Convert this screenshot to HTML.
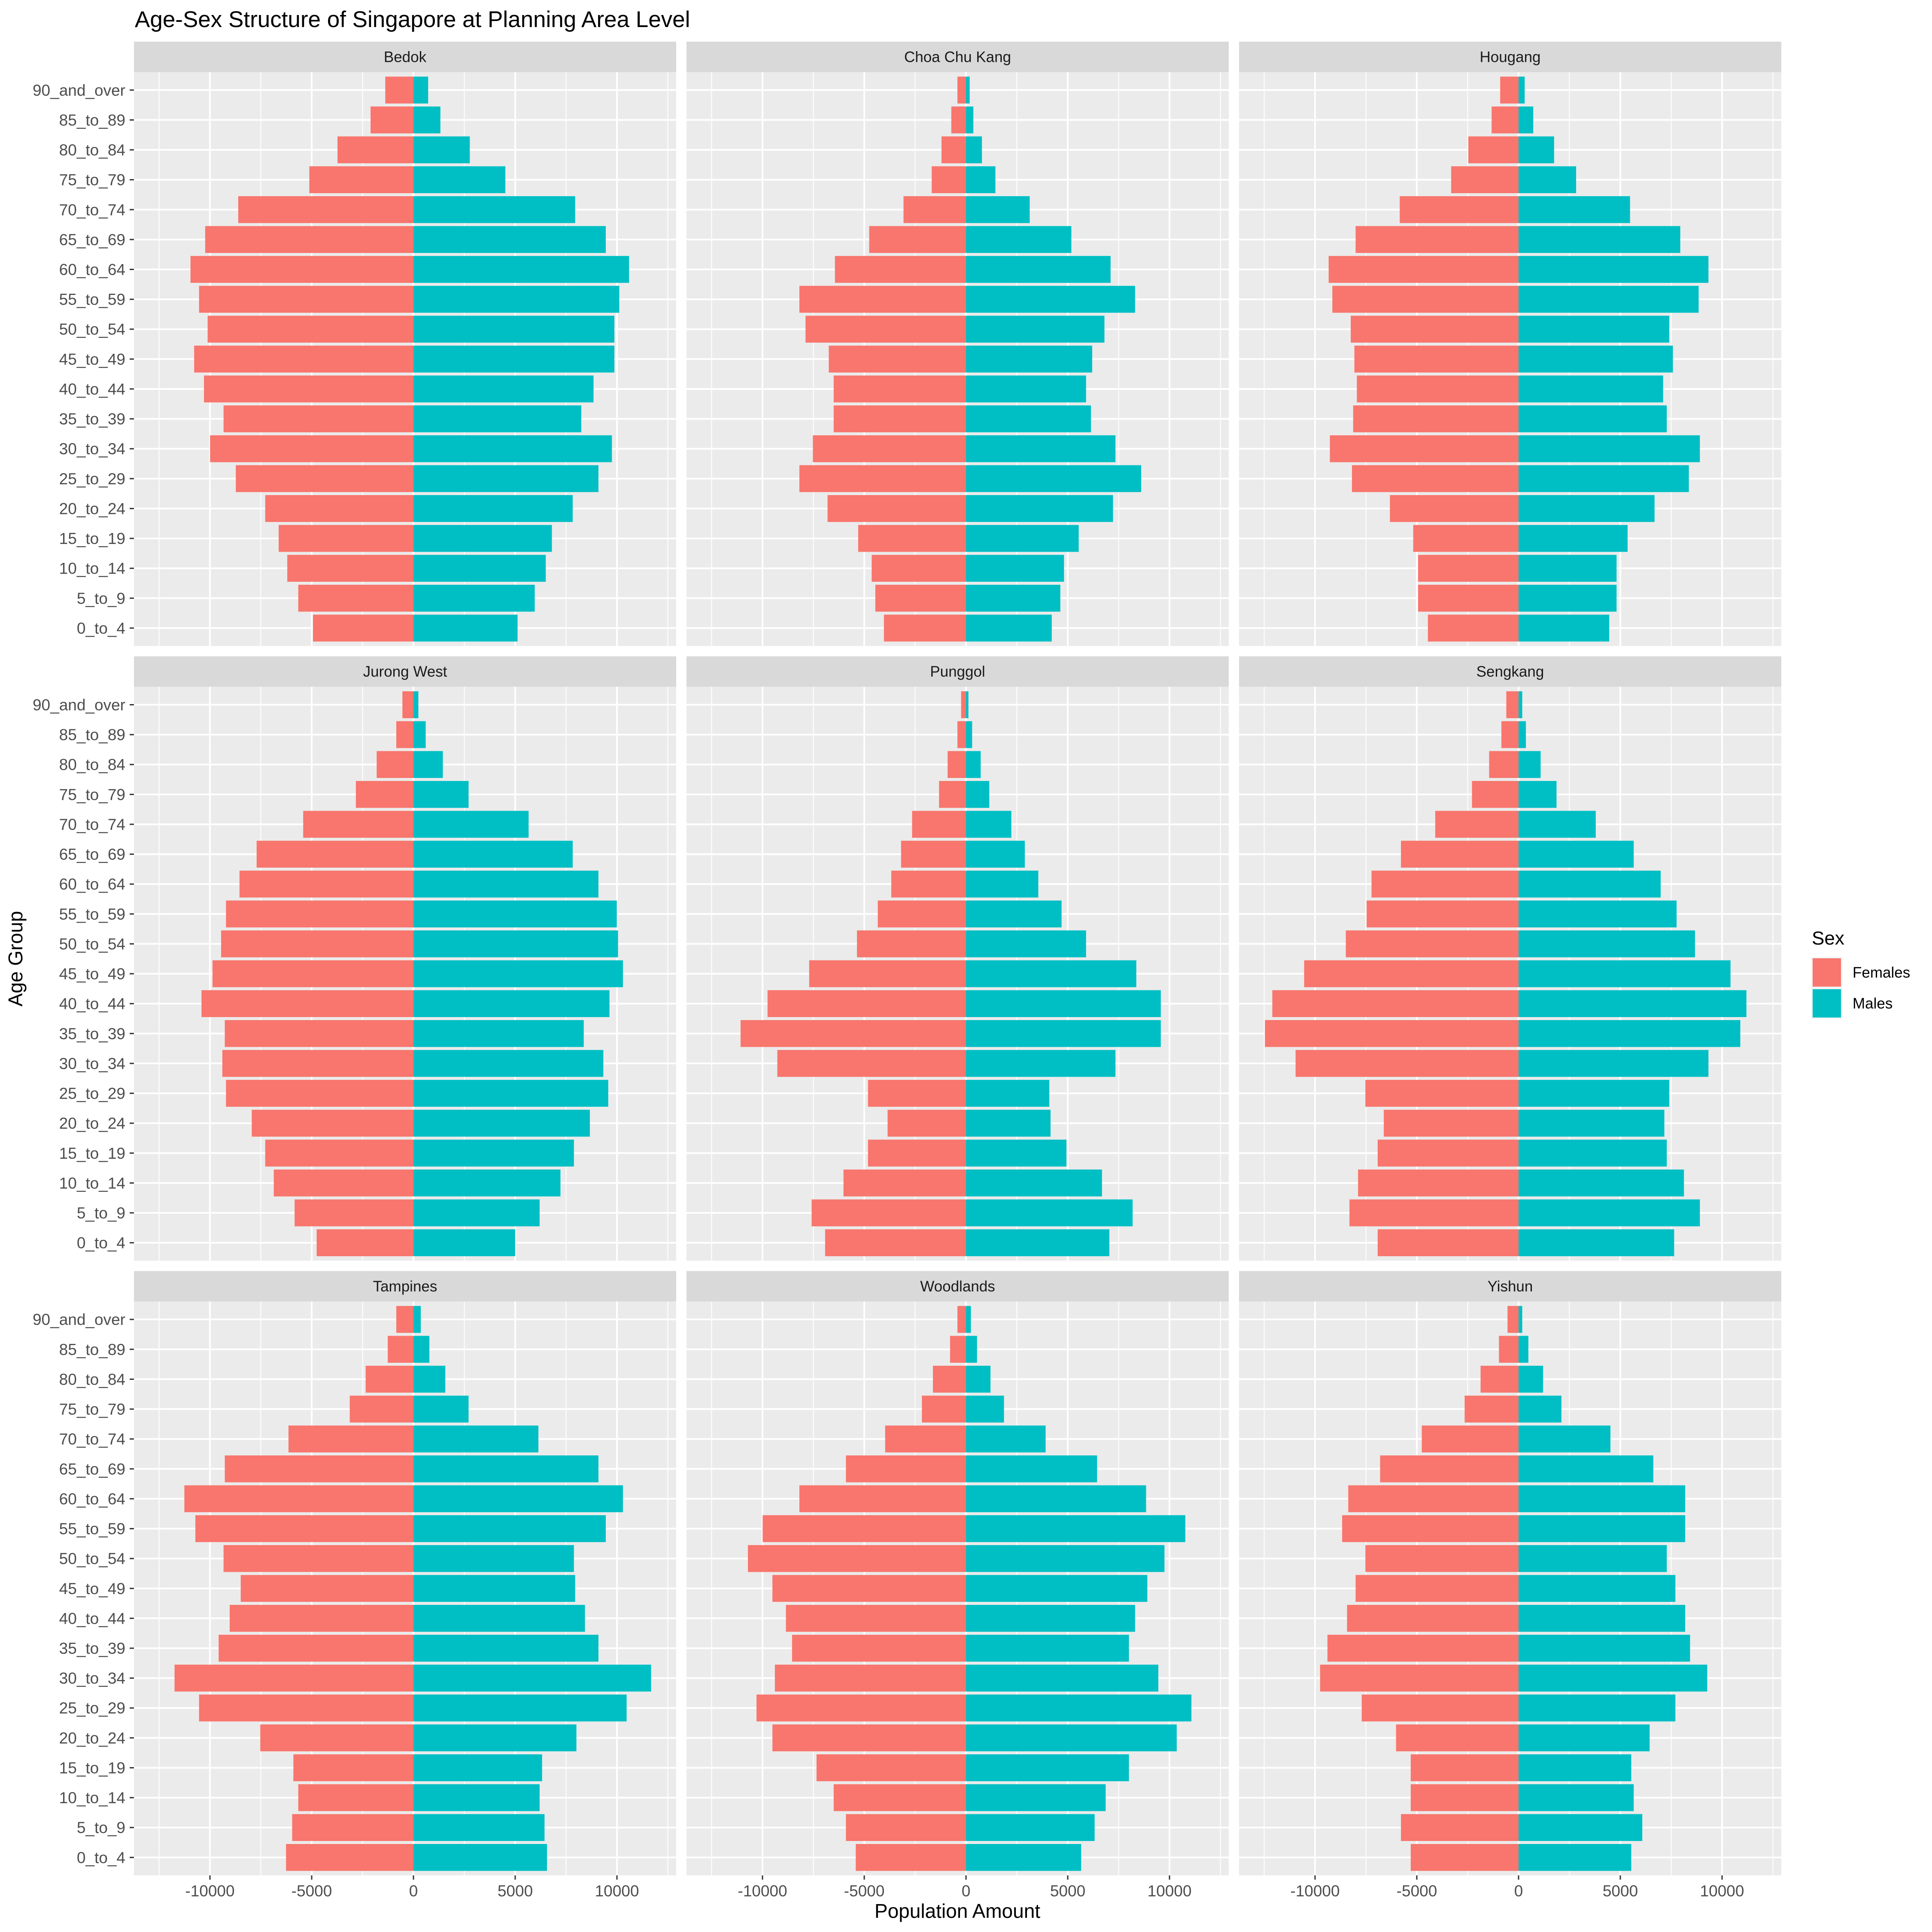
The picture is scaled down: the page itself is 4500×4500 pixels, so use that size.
<!DOCTYPE html>
<html><head><meta charset="utf-8"><style>
html,body{margin:0;padding:0;background:#fff;}
svg{display:block;font-family:"Liberation Sans",Arial,sans-serif;}
</style></head><body>
<svg id="chart" width="4500" height="4500" viewBox="0 0 4500 4500" xmlns="http://www.w3.org/2000/svg">
<rect width="4500" height="4500" fill="#fff"/>
<text x="314" y="63" font-size="53" fill="#000">Age-Sex Structure of Singapore at Planning Area Level</text>
<text x="2230" y="4467" font-size="46" text-anchor="middle" fill="#000">Population Amount</text>
<text x="0" y="0" font-size="46" text-anchor="middle" fill="#000" transform="translate(52,2233) rotate(-90)">Age Group</text>
<g>
<text x="4220" y="2200" font-size="44" fill="#000">Sex</text>
<rect x="4219" y="2229" width="72" height="144" fill="#f2f2f2"/>
<rect x="4222" y="2232" width="66" height="66" fill="#F8766D"/>
<rect x="4222" y="2304" width="66" height="66" fill="#00BFC4"/>
<text x="4315" y="2277" font-size="35" fill="#000">Females</text>
<text x="4315" y="2349" font-size="35" fill="#000">Males</text>
</g>
<g id="panels"></g>
</svg>
<script>
const ageGroups = ["90_and_over","85_to_89","80_to_84","75_to_79","70_to_74","65_to_69","60_to_64","55_to_59","50_to_54","45_to_49","40_to_44","35_to_39","30_to_34","25_to_29","20_to_24","15_to_19","10_to_14","5_to_9","0_to_4"];
const areas = ["Bedok","Choa Chu Kang","Hougang","Jurong West","Punggol","Sengkang","Tampines","Woodlands","Yishun"];
const xTicks = [-10000,-5000,0,5000,10000];
const xTickLabels = ["-10000","-5000","0","5000","10000"];
const xMinor = [-12500,-7500,-2500,2500,7500,12500];
const femalesBedok = [1385,2107,3732,5117,8609,10234,10956,10535,10114,10776,10294,9331,9993,8729,7284,6622,6200,5659,4936];
const malesBedok = [722,1324,2769,4515,7946,9451,10595,10114,9873,9873,8849,8247,9752,9090,7826,6803,6502,5960,5117];
const femalesChoaChuKang = [421,722,1204,1686,3070,4756,6441,8187,7886,6742,6502,6502,7525,8187,6803,5298,4635,4455,4033];
const malesChoaChuKang = [181,361,783,1445,3130,5177,7104,8308,6803,6200,5900,6140,7344,8609,7224,5538,4816,4635,4214];
const femalesHougang = [903,1324,2468,3311,5839,8007,9331,9150,8247,8067,7946,8127,9271,8187,6321,5177,4936,4936,4455];
const malesHougang = [301,722,1746,2829,5478,7946,9331,8849,7405,7585,7104,7284,8910,8368,6682,5358,4816,4816,4455];
const femalesJurongWest = [542,843,1806,2829,5418,7706,8548,9211,9451,9873,10415,9271,9391,9211,7946,7284,6863,5839,4756];
const malesJurongWest = [241,602,1445,2709,5659,7826,9090,9993,10053,10294,9632,8368,9331,9572,8669,7886,7224,6200,4997];
const femalesPunggol = [241,421,903,1324,2649,3191,3672,4334,5358,7706,9752,11077,9271,4816,3853,4816,6020,7585,6923];
const malesPunggol = [120,301,722,1144,2227,2890,3552,4696,5900,8368,9572,9572,7344,4094,4154,4936,6682,8187,7043];
const femalesSengkang = [602,843,1445,2288,4094,5779,7224,7465,8488,10535,12100,12461,10956,7525,6622,6923,7886,8308,6923];
const malesSengkang = [181,361,1084,1866,3793,5659,6983,7766,8669,10415,11197,10896,9331,7405,7164,7284,8127,8910,7645];
const femalesTampines = [843,1264,2348,3130,6140,9271,11257,10716,9331,8488,9030,9572,11739,10535,7525,5900,5659,5960,6261];
const malesTampines = [361,783,1565,2709,6140,9090,10294,9451,7886,7946,8428,9090,11679,10475,8007,6321,6200,6441,6562];
const femalesWoodlands = [421,783,1625,2167,3973,5900,8187,9993,10716,9512,8849,8548,9391,10294,9512,7344,6502,5900,5418];
const malesWoodlands = [241,542,1204,1866,3913,6441,8849,10776,9752,8910,8308,8007,9451,11077,10355,8007,6863,6321,5659];
const femalesYishun = [542,963,1866,2649,4756,6803,8368,8669,7525,8007,8428,9391,9752,7706,6020,5298,5298,5779,5298];
const malesYishun = [181,482,1204,2107,4515,6622,8187,8187,7284,7706,8187,8428,9271,7706,6441,5538,5659,6080,5538];

const femaleSeries = [femalesBedok,femalesChoaChuKang,femalesHougang,femalesJurongWest,femalesPunggol,femalesSengkang,femalesTampines,femalesWoodlands,femalesYishun];
const maleSeries = [malesBedok,malesChoaChuKang,malesHougang,malesJurongWest,malesPunggol,malesSengkang,malesTampines,malesWoodlands,malesYishun];

const NS = "http://www.w3.org/2000/svg";
const root = document.getElementById("panels");
const colLeft = [312,1599,2886], panelW = 1263;
const rowTop0 = 97, rowStep = 1431.7, stripH = 71, panelH = 1336.7;
const xMin = -13734, xMax = 12911;
const nCat = ageGroups.length, catUnit = panelH / (nCat + 0.2);

function mk(tag, attrs, parent){
  const e = document.createElementNS(NS, tag);
  for (const k in attrs) e.setAttribute(k, attrs[k]);
  parent.appendChild(e);
  return e;
}
areas.forEach((area, idx) => {
  const c = idx % 3, r = Math.floor(idx / 3);
  const left = colLeft[c], stripTop = rowTop0 + r * rowStep, top = stripTop + stripH;
  const xs = v => left + (v - xMin) / (xMax - xMin) * panelW;
  const ys = i => top + (0.6 + i) * catUnit;
  const g = mk("g", {}, root);
  
  
  const strip = mk("rect", {x:left, y:stripTop, width:panelW, height:stripH, fill:"#d9d9d9"}, g);
  
  
  const st = mk("text", {x:left + panelW/2, y:stripTop + stripH/2 + 12, "font-size":35, "text-anchor":"middle", fill:"#1a1a1a"}, g);
  st.textContent = area;
  
  
  const bg = mk("rect", {x:left, y:top, width:panelW, height:panelH, fill:"#ebebeb"}, g);
  
  
  xMinor.forEach(v => mk("line", {x1:xs(v), x2:xs(v), y1:top, y2:top+panelH, stroke:"#fff", "stroke-width":2}, g));
  xTicks.forEach(v => mk("line", {x1:xs(v), x2:xs(v), y1:top, y2:top+panelH, stroke:"#fff", "stroke-width":4}, g));
  ageGroups.forEach((a, i) => mk("line", {x1:left, x2:left+panelW, y1:ys(i), y2:ys(i), stroke:"#fff", "stroke-width":4}, g));
  const bh = catUnit * 0.9;
  const fs = femaleSeries[idx], ms = maleSeries[idx];
  ageGroups.forEach((a, i) => {
    const fb = mk("rect", {x:xs(-fs[i]), y:ys(i)-bh/2, width:xs(0)-xs(-fs[i]), height:bh, fill:"#F8766D"}, g);
    
    
    const mb = mk("rect", {x:xs(0), y:ys(i)-bh/2, width:xs(ms[i])-xs(0), height:bh, fill:"#00BFC4"}, g);
    
    
  });
  if (c === 0) {
    ageGroups.forEach((a, i) => {
      mk("line", {x1:left-10, x2:left, y1:ys(i), y2:ys(i), stroke:"#333", "stroke-width":3}, g);
      const t = mk("text", {x:left-20, y:ys(i)+13, "font-size":37, "text-anchor":"end", fill:"#4d4d4d"}, g);
      t.textContent = a;
      
      
    });
  }
  if (r === 2) {
    xTicks.forEach((v, k) => {
      mk("line", {x1:xs(v), x2:xs(v), y1:top+panelH, y2:top+panelH+10, stroke:"#333", "stroke-width":3}, g);
      const t = mk("text", {x:xs(v), y:top+panelH+49, "font-size":37, "text-anchor":"middle", fill:"#4d4d4d"}, g);
      t.textContent = xTickLabels[k];
      
      
    });
  }
});
</script>
</body></html>
